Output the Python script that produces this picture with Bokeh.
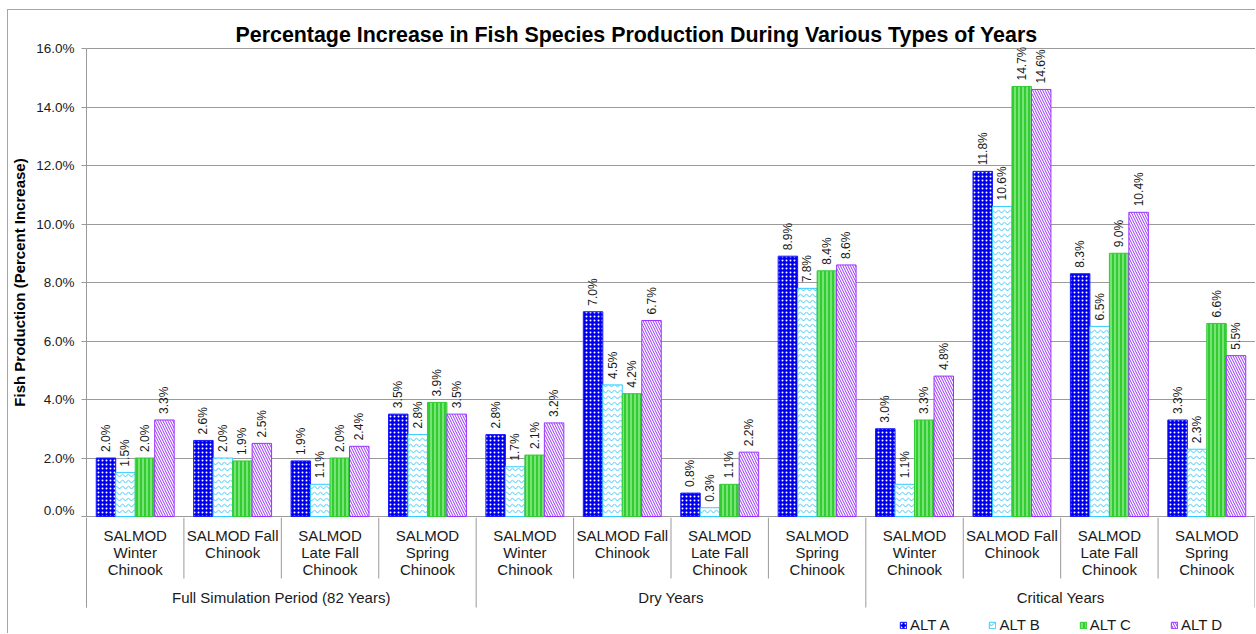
import math
from bokeh.plotting import figure
from bokeh.models import (ColumnDataSource, FactorRange, Range1d, FixedTicker,
                          Legend, LegendItem)
from bokeh.transform import dodge
from bokeh.layouts import column
from bokeh.core.properties import value
from bokeh.embed import file_html
from bokeh.resources import INLINE

# ---------------- data ----------------
groups = ["Full Simulation Period (82 Years)", "Dry Years", "Critical Years"]
subcats = ["SALMOD\nWinter\nChinook", "SALMOD Fall\nChinook",
           "SALMOD\nLate Fall\nChinook", "SALMOD\nSpring\nChinook"]
series = ["ALT A", "ALT B", "ALT C", "ALT D"]

alt_a = [2.0, 2.6, 1.9, 3.5, 2.8, 7.0, 0.8, 8.9, 3.0, 11.8, 8.3, 3.3]
alt_b = [1.5, 2.0, 1.1, 2.8, 1.7, 4.5, 0.3, 7.8, 1.1, 10.6, 6.5, 2.3]
alt_c = [2.0, 1.9, 2.0, 3.9, 2.1, 4.2, 1.1, 8.4, 3.3, 14.7, 9.0, 6.6]
alt_d = [3.3, 2.5, 2.4, 3.5, 3.2, 6.7, 2.2, 8.6, 4.8, 14.6, 10.4, 5.5]

y_ticks = [0, 2, 4, 6, 8, 10, 12, 14, 16]
y_tick_labels = ["0.0%", "2.0%", "4.0%", "6.0%", "8.0%", "10.0%", "12.0%", "14.0%", "16.0%"]

title_text = "Percentage Increase in Fish Species Production During Various Types of Years"
y_label = "Fish Production (Percent Increase)"

# ---------------- styles ----------------
FONT = "Liberation Sans"
GRID = "#9a9a9a"
styles = [
    dict(fill_color="#0000ee", line_color="#1a1aff", hatch_pattern=".", hatch_color="white",
         hatch_scale=4, hatch_weight=1.2),
    dict(fill_color="white", line_color="#33ccff", hatch_pattern="v", hatch_color="#33ccff",
         hatch_scale=6, hatch_weight=1.0),
    dict(fill_color="#33cc33", line_color="#33cc33", hatch_pattern="|", hatch_color="#b8ffb8",
         hatch_scale=4, hatch_weight=1.0),
    dict(fill_color="white", line_color="#9933ff", hatch_pattern="\\", hatch_color="#9933ff",
         hatch_scale=5, hatch_weight=1.0),
]
offsets = [-0.3, -0.1, 0.1, 0.3]
cols = ["a", "b", "c", "d"]

factors = [(g, s) for g in groups for s in subcats]
src = ColumnDataSource(dict(
    cat=factors,
    a=alt_a, b=alt_b, c=alt_c, d=alt_d,
    la=[f"{v:.1f}%" for v in alt_a], lb=[f"{v:.1f}%" for v in alt_b],
    lc=[f"{v:.1f}%" for v in alt_c], ld=[f"{v:.1f}%" for v in alt_d],
))

xr = FactorRange(*factors, group_padding=0, factor_padding=0, subgroup_padding=0, range_padding=0)
px_unit = 1.0 / 29.25
W = 1247

p = figure(x_range=xr, y_range=Range1d(-px_unit, 16 + px_unit),
           width=W, height=507, output_backend="svg", toolbar_location=None,
           x_axis_location=None, min_border_left=75, min_border_right=0,
           min_border_top=37, min_border_bottom=0, title=title_text)
p.title.text_font = FONT
p.title.text_font_size = "21.4px"
p.title.text_font_style = "bold"
p.title.text_color = "black"
p.title.align = "left"
p.title.offset = 149
p.title.standoff = 2
p.outline_line_color = None
p.xgrid.visible = False
p.ygrid.ticker = FixedTicker(ticks=y_ticks)
p.ygrid.grid_line_color = GRID

ax = p.yaxis[0]
ax.ticker = FixedTicker(ticks=y_ticks)
ax.major_label_overrides = {t: l for t, l in zip(y_ticks, y_tick_labels)}
ax.bounds = (0, 16)
ax.axis_line_color = GRID
ax.major_tick_line_color = GRID
ax.major_tick_out = 5
ax.major_tick_in = 0
ax.minor_tick_line_color = None
ax.major_label_text_font = FONT
ax.major_label_text_font_size = "13.5px"
ax.major_label_text_color = "#1a1a1a"
ax.major_label_standoff = 7
ax.axis_label = y_label
ax.axis_label_text_font = FONT
ax.axis_label_text_font_size = "15px"
ax.axis_label_text_font_style = "bold"
ax.axis_label_text_color = "black"
ax.axis_label_standoff = 5

for c, off, st in zip(cols, offsets, styles):
    p.vbar(x=dodge("cat", off, range=xr), top=c, bottom=0, width=0.2, source=src,
           line_width=1, **st)
    p.text(x=dodge("cat", off, range=xr), y=c, text="l" + c, source=src,
           angle=math.pi / 2, text_align="left", text_baseline="middle",
           y_offset=-6, text_font=value(FONT), text_font_size="12px", text_color="#1a1a1a")

# ---------------- category table + legend ----------------
p2 = figure(x_range=xr, y_range=Range1d(-116, 0), width=W, height=116,
            output_backend="svg", toolbar_location=None, x_axis_location=None,
            min_border_left=75, min_border_right=0, min_border_top=0, min_border_bottom=0)
p2.outline_line_color = None
p2.xgrid.visible = False
p2.ygrid.visible = False
ax2 = p2.yaxis[0]
ax2.ticker = FixedTicker(ticks=[])
ax2.bounds = (-90, 0)
ax2.axis_line_color = GRID
ax2.major_tick_line_color = None
ax2.minor_tick_line_color = None

inner = [f for i, f in enumerate(factors) if i % 4 != 0]
outer = [f for i, f in enumerate(factors) if i % 4 == 0]
sep_in = ColumnDataSource(dict(x=inner, y0=[0] * len(inner), y1=[-61] * len(inner)))
sep_out = ColumnDataSource(dict(x=outer, y0=[0] * len(outer), y1=[-90] * len(outer)))
for s in (sep_in, sep_out):
    p2.segment(x0=dodge("x", -0.5, range=xr), y0="y0", x1=dodge("x", -0.5, range=xr), y1="y1",
               source=s, line_color=GRID, line_width=1)
sep_end = ColumnDataSource(dict(x=[factors[-1]], y0=[0], y1=[-90]))
p2.segment(x0=dodge("x", 0.5, range=xr), y0="y0", x1=dodge("x", 0.5, range=xr), y1="y1",
           source=sep_end, line_color=GRID, line_width=2)

lab_src = ColumnDataSource(dict(x=factors, y=[-9] * len(factors), t=[f[1] for f in factors]))
p2.text(x="x", y="y", text="t", source=lab_src, text_align="center", text_baseline="top",
        text_font=value(FONT), text_font_size="15px", text_color="#1a1a1a", text_line_height=1.0)
grp_src = ColumnDataSource(dict(x=groups, y=[-80] * len(groups), t=groups))
p2.text(x="x", y="y", text="t", source=grp_src, text_align="center", text_baseline="middle",
        text_font=value(FONT), text_font_size="15px", text_color="#1a1a1a")

items = []
for name, st in zip(series, styles):
    dummy = ColumnDataSource(dict(x=[factors[0]], top=[-500.0], bottom=[-500.0]))
    r = p2.vbar(x="x", top="top", bottom="bottom", width=0.2, line_width=1, source=dummy, **st)
    items.append(LegendItem(label=name, renderers=[r]))
leg = Legend(items=items, orientation="horizontal", location=(813, 0),
             glyph_width=8, glyph_height=8, label_standoff=3, spacing=39,
             padding=0, margin=0, border_line_color=None, background_fill_alpha=0,
             label_text_font=FONT, label_text_font_size="15px", label_text_color="#1a1a1a",
             label_height=14)
p2.add_layout(leg)

layout = column(p, p2, spacing=0,
                styles={"margin-left": "7px", "margin-top": "9px",
                        "border-left": "1px solid #a6a6a6", "border-top": "1px solid #a6a6a6"})
open("out.html", "w").write(file_html(layout, INLINE))
